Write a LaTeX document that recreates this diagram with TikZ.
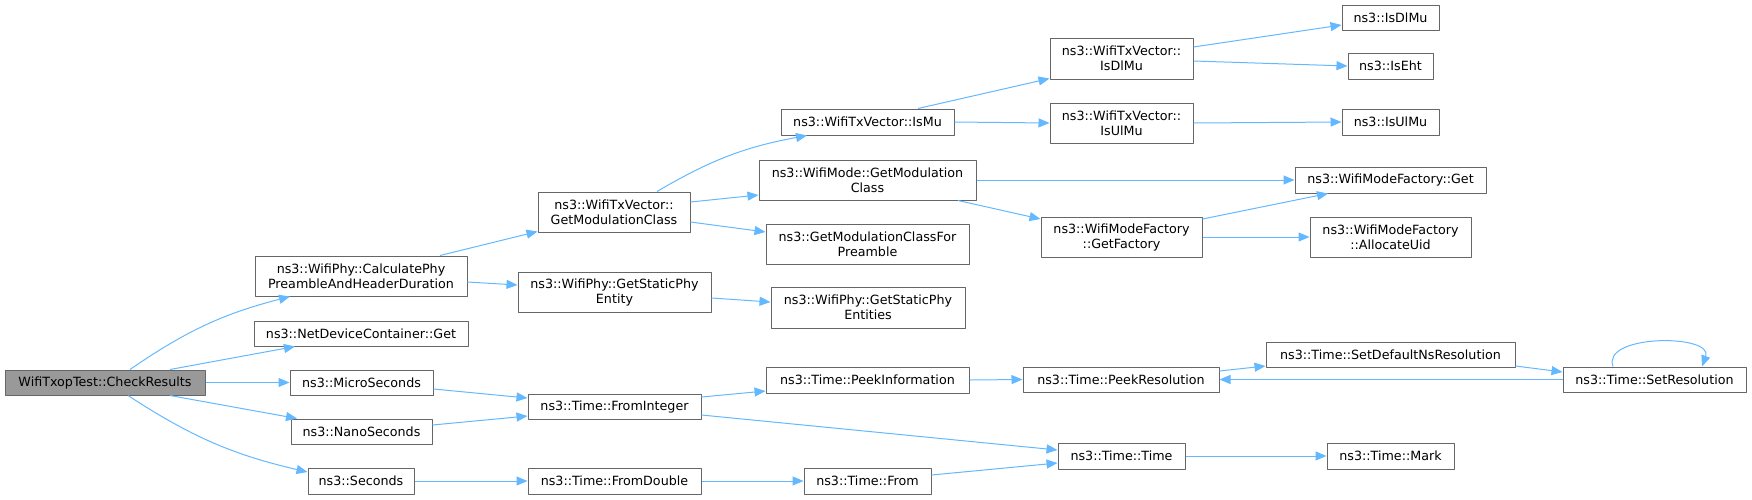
\documentclass[tikz,border=0pt]{standalone}
\usepackage{fontspec}
\setmainfont{DejaVu Sans}
\usetikzlibrary{arrows.meta}
\definecolor{edgeblue}{HTML}{63B8FF}
\definecolor{boxgray}{HTML}{666666}
\definecolor{rootgray}{HTML}{999999}
\begin{document}
\begin{tikzpicture}[x=1pt, y=-1pt, font=\fontsize{12.7}{15}\selectfont, line join=round,
	fn/.style={draw=boxgray, line width=1pt, fill=white, inner sep=0pt, align=center, minimum height=25pt},
	fnn/.style={fn, minimum height=40pt},
	call/.style={draw=edgeblue, line width=1pt, -{Triangle[length=11pt,width=9pt]}}]
	\useasboundingbox (0,0) rectangle (1752,499);
	%%%%%%%%%%%%%%%%%%%%%%%%%%%%%%%%%
	\node[fn, fill=rootgray, minimum width=200pt] (chk) at (105,382.5) {WifiTxopTest::CheckResults};
	%%%%%%%%%%%%%%%%%%%%%%%%%%%%%%%%%
	\node[fnn, minimum width=212pt] (calc) at (361,276) {ns3::WifiPhy::CalculatePhy\\PreambleAndHeaderDuration};
	\node[fn, minimum width=214pt] (ndc) at (361,333.5) {ns3::NetDeviceContainer::Get};
	\node[fn, minimum width=143pt] (micro) at (361.5,382.5) {ns3::MicroSeconds};
	\node[fn, minimum width=141pt] (nano) at (361.5,431.5) {ns3::NanoSeconds};
	\node[fn, minimum width=106pt, minimum height=26pt] (sec) at (361,481) {ns3::Seconds};
	%%%%%%%%%%%%%%%%%%%%%%%%%%%%%%%%%
	\node[fnn, minimum width=152pt] (getmod) at (614,212) {ns3::WifiTxVector::\\GetModulationClass};
	\node[fnn, minimum width=193pt] (statent) at (614.5,292) {ns3::WifiPhy::GetStaticPhy\\Entity};
	\node[fn, minimum width=173pt] (fromint) at (614.5,406.5) {ns3::Time::FromInteger};
	\node[fn, minimum width=173pt, minimum height=26pt] (fromdbl) at (614.5,481) {ns3::Time::FromDouble};
	%%%%%%%%%%%%%%%%%%%%%%%%%%%%%%%%%
	\node[fn, minimum width=173pt, minimum height=26pt] (ismu) at (867.5,122) {ns3::WifiTxVector::IsMu};
	\node[fnn, minimum width=217pt] (modecls) at (867.5,180) {ns3::WifiMode::GetModulation\\Class};
	\node[fnn, minimum width=203pt] (forpre) at (867.5,244) {ns3::GetModulationClassFor\\Preamble};
	\node[fnn, minimum width=194pt, minimum height=41pt] (statents) at (868,307.5) {ns3::WifiPhy::GetStaticPhy\\Entities};
	\node[fn, minimum width=203pt, minimum height=26pt] (peekinf) at (867.5,380) {ns3::Time::PeekInformation};
	\node[fn, minimum width=127pt, minimum height=26pt] (from) at (867.5,481) {ns3::Time::From};
	%%%%%%%%%%%%%%%%%%%%%%%%%%%%%%%%%
	\node[fnn, minimum width=143pt, minimum height=41pt] (isdlmu) at (1121.5,58.5) {ns3::WifiTxVector::\\IsDlMu};
	\node[fnn, minimum width=143pt] (isulmu) at (1121.5,123) {ns3::WifiTxVector::\\IsUlMu};
	\node[fnn, minimum width=161pt] (getfac) at (1121.5,237) {ns3::WifiModeFactory\\::GetFactory};
	\node[fn, minimum width=196pt] (peekres) at (1121,379.5) {ns3::Time::PeekResolution};
	\node[fn, minimum width=127pt, minimum height=26pt] (ttime) at (1121.5,456) {ns3::Time::Time};
	%%%%%%%%%%%%%%%%%%%%%%%%%%%%%%%%%
	\node[fn, minimum width=97pt] (dlmu) at (1390.5,17.5) {ns3::IsDlMu};
	\node[fn, minimum width=85pt, minimum height=26pt] (eht) at (1390.5,66) {ns3::IsEht};
	\node[fn, minimum width=97pt, minimum height=26pt] (ulmu) at (1390.5,122) {ns3::IsUlMu};
	\node[fn, minimum width=191pt, minimum height=26pt] (facget) at (1390.5,180) {ns3::WifiModeFactory::Get};
	\node[fnn, minimum width=161pt] (alloc) at (1390.5,237) {ns3::WifiModeFactory\\::AllocateUid};
	\node[fn, minimum width=249pt] (setdef) at (1390.5,354.5) {ns3::Time::SetDefaultNsResolution};
	\node[fn, minimum width=127pt, minimum height=26pt] (mark) at (1390.5,456) {ns3::Time::Mark};
	%%%%%%%%%%%%%%%%%%%%%%%%%%%%%%%%%
	\node[fn, minimum width=183pt] (setres) at (1654.5,379.5) {ns3::Time::SetResolution};
	%%%%%%%%%%%%%%%%%%%%%%%%%%%%%%%%%
	\begin{scope}[call]
		\draw ([xshift=25pt]chk.north) to[bend left=10] ([xshift=-71pt]calc.south);
		\draw ([xshift=65pt]chk.north) -- ([xshift=-66pt]ndc.south);
		\draw (chk.east) -- (micro.west);
		\draw ([xshift=65pt]chk.south) -- ([xshift=-64.5pt]nano.north);
		\draw ([xshift=23pt]chk.south) to[bend right=10] ([yshift=9pt]sec.west);
		\draw ([xshift=79pt]calc.north) -- ([yshift=1pt]getmod.south west);
		\draw ([yshift=-6pt]calc.east) -- ([yshift=7pt]statent.west);
		\draw ([xshift=43pt]getmod.north) to[bend left=10] ([xshift=-60.5pt]ismu.south);
		\draw ([yshift=10pt]getmod.east) -- ([yshift=-15pt]modecls.west);
		\draw ([yshift=-10pt]getmod.east) -- ([yshift=12pt]forpre.west);
		\draw ([yshift=-6pt]statent.east) -- ([yshift=5.5pt]statents.west);
		\draw ([xshift=50.5pt]ismu.north) -- ([yshift=1pt]isdlmu.south west);
		\draw (ismu.east) -- (isulmu.west);
		\draw ([yshift=11.5pt]isdlmu.east) -- ([yshift=-7.5pt]dlmu.west);
		\draw ([yshift=-2.5pt]isdlmu.east) -- (eht.west);
		\draw (isulmu.east) -- (ulmu.west);
		\draw (modecls.east) -- (facget.west);
		\draw ([xshift=90.5pt]modecls.south) -- ([yshift=18pt]getfac.west);
		\draw ([yshift=18pt]getfac.east) -- ([xshift=-62.5pt]facget.south);
		\draw (getfac.east) -- (alloc.west);
		\draw ([yshift=-6.5pt]micro.east) -- ([yshift=8.5pt]fromint.west);
		\draw ([yshift=6.5pt]nano.east) -- ([yshift=-9.5pt]fromint.west);
		\draw (sec.east) -- (fromdbl.west);
		\draw ([yshift=9.5pt]fromint.east) -- ([yshift=-11pt]peekinf.west);
		\draw ([yshift=-8.5pt]fromint.east) -- ([yshift=6pt]ttime.west);
		\draw (fromdbl.east) -- (from.west);
		\draw ([yshift=6pt]from.east) -- ([yshift=-7pt]ttime.west);
		\draw (peekinf.east) -- (peekres.west);
		\draw ([yshift=8.5pt]peekres.east) -- ([yshift=-11.5pt]setdef.west);
		\draw ([yshift=-11.5pt]setdef.east) -- ([yshift=7.5pt]setres.west);
		\draw (setres.west) -- (peekres.east);
		\draw ([xshift=-41.5pt]setres.north) to[out=110,in=70] ([xshift=47.5pt]setres.north);
		\draw (ttime.east) -- (mark.west);
	\end{scope}
	%%%%%%%%%%%%%%%%%%%%%%%%%%%%%%%%%
\end{tikzpicture}
\end{document}
